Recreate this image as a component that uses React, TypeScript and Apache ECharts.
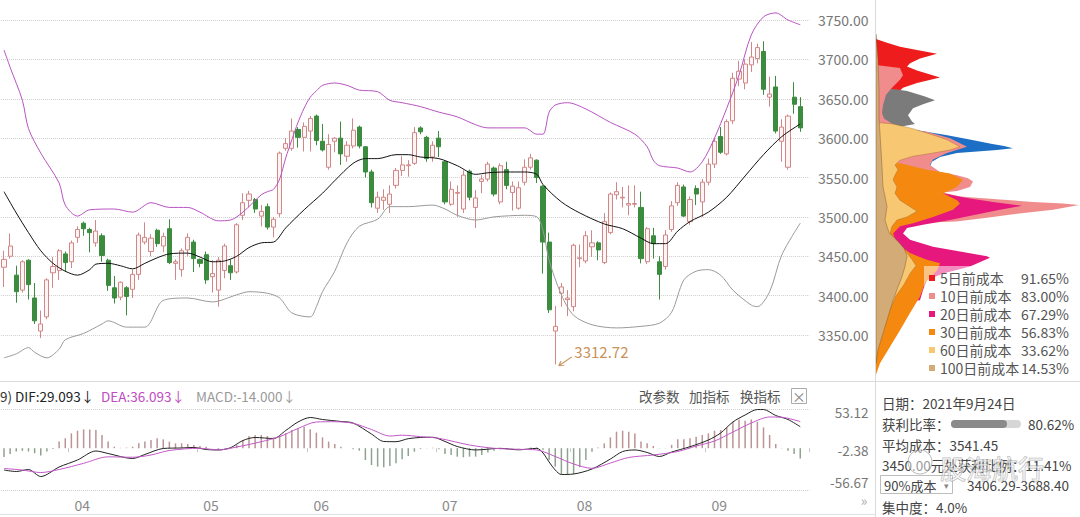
import React, { useEffect, useRef } from 'react';
import * as echarts from 'echarts';

const FONT = "'Noto Sans CJK SC', 'Noto Sans', sans-serif";

// ---- trading days (2021) ----
const year = 2021;
const marDays = [17, 18, 19, 22, 23, 24, 25, 26, 29, 30, 31];
const aprDays = [1, 2, 6, 7, 8, 9, 12, 13, 14, 15, 16, 19, 20, 21, 22, 23, 26, 27, 28, 29, 30];
const mayDays = [6, 7, 10, 11, 12, 13, 14, 17, 18, 19, 20, 21, 24, 25, 26, 27, 28, 31];
const junDays = [1, 2, 3, 4, 7, 8, 9, 10, 11, 15, 16, 17, 18, 21, 22, 23, 24, 25, 28, 29, 30];
const julDays = [1, 2, 5, 6, 7, 8, 9, 12, 13, 14, 15, 16, 19, 20, 21, 22, 23, 26, 27, 28, 29, 30];
const augDays = [2, 3, 4, 5, 6, 9, 10, 11, 12, 13, 16, 17, 18, 19, 20, 23, 24, 25, 26, 27, 30, 31];
const sepDays = [1, 2, 3, 6, 7, 8, 9, 10, 13, 14, 15, 16, 17, 22, 23, 24];
const monthDays: [number, number[]][] = [[3, marDays], [4, aprDays], [5, mayDays], [6, junDays], [7, julDays], [8, augDays], [9, sepDays]];

// ---- daily candles: [open, close, low, high] ----
const candles: number[][] = [
  [3436, 3446, 3411, 3457], [3450, 3463, 3447, 3479], [3426, 3405, 3391, 3438], [3407, 3443, 3404, 3445],
  [3445, 3414, 3395, 3446], [3397, 3368, 3364, 3416], [3355, 3364, 3346, 3381], [3373, 3420, 3370, 3422],
  [3429, 3437, 3410, 3449], [3432, 3457, 3420, 3459], [3453, 3442, 3430, 3456],
  [3443, 3467, 3435, 3470], [3474, 3484, 3467, 3488], [3492, 3485, 3476, 3494], [3484, 3480, 3455, 3486],
  [3467, 3482, 3462, 3496], [3476, 3451, 3443, 3479], [3445, 3413, 3406, 3447], [3410, 3397, 3390, 3425],
  [3398, 3417, 3394, 3418], [3410, 3399, 3375, 3412], [3408, 3427, 3397, 3433], [3427, 3477, 3420, 3480],
  [3468, 3474, 3465, 3493], [3456, 3473, 3450, 3478], [3483, 3466, 3462, 3485], [3463, 3475, 3455, 3480],
  [3485, 3442, 3440, 3497], [3441, 3443, 3420, 3446], [3433, 3457, 3424, 3460], [3458, 3474, 3450, 3479],
  [3468, 3447, 3430, 3471],
  [3446, 3441, 3436, 3447], [3452, 3420, 3415, 3456], [3424, 3428, 3404, 3445], [3407, 3445, 3386, 3449],
  [3432, 3463, 3422, 3466], [3438, 3429, 3420, 3446], [3430, 3490, 3428, 3492], [3502, 3518, 3496, 3530],
  [3521, 3529, 3512, 3533], [3522, 3510, 3505, 3524], [3501, 3507, 3488, 3515], [3513, 3487, 3484, 3517],
  [3487, 3497, 3474, 3500], [3504, 3581, 3500, 3583], [3587, 3593, 3584, 3600], [3587, 3609, 3584, 3625],
  [3611, 3601, 3588, 3614], [3601, 3615, 3583, 3620],
  [3609, 3625, 3583, 3628], [3628, 3597, 3591, 3630], [3596, 3585, 3583, 3618], [3563, 3592, 3560, 3605],
  [3596, 3600, 3582, 3601], [3600, 3580, 3566, 3621], [3577, 3591, 3570, 3596], [3590, 3610, 3587, 3625],
  [3614, 3590, 3587, 3616], [3589, 3557, 3550, 3590], [3557, 3518, 3512, 3560], [3511, 3525, 3505, 3532],
  [3521, 3525, 3509, 3535], [3516, 3529, 3505, 3540], [3540, 3559, 3536, 3562], [3559, 3566, 3552, 3577],
  [3565, 3566, 3551, 3572], [3568, 3607, 3566, 3614], [3613, 3608, 3605, 3615], [3601, 3574, 3570, 3603],
  [3576, 3591, 3570, 3596],
  [3600, 3589, 3576, 3609], [3570, 3519, 3516, 3572], [3516, 3535, 3514, 3545], [3530, 3531, 3500, 3540],
  [3510, 3553, 3505, 3559], [3558, 3525, 3521, 3560], [3512, 3524, 3486, 3534], [3545, 3548, 3530, 3553],
  [3548, 3567, 3545, 3570], [3562, 3529, 3526, 3564], [3519, 3565, 3516, 3568], [3560, 3540, 3535, 3570],
  [3531, 3539, 3508, 3545], [3511, 3537, 3509, 3545], [3544, 3563, 3540, 3573], [3563, 3575, 3560, 3580],
  [3572, 3550, 3543, 3573], [3539, 3468, 3428, 3540], [3468, 3382, 3378, 3480], [3355, 3361, 3312.72, 3387],
  [3403, 3411, 3386, 3416], [3395, 3397, 3374, 3407],
  [3386, 3464, 3380, 3466], [3447, 3448, 3436, 3465], [3444, 3476, 3441, 3482], [3462, 3467, 3449, 3483],
  [3467, 3458, 3445, 3469], [3442, 3494, 3440, 3505], [3480, 3529, 3478, 3531], [3528, 3532, 3522, 3544],
  [3524, 3525, 3512, 3538], [3515, 3517, 3502, 3540], [3516, 3517, 3512, 3540], [3512, 3447, 3441, 3532],
  [3443, 3485, 3440, 3487], [3476, 3466, 3447, 3486], [3443, 3427, 3395, 3450], [3437, 3477, 3433, 3483],
  [3484, 3514, 3481, 3520], [3518, 3540, 3514, 3544], [3538, 3501, 3500, 3541], [3494, 3522, 3490, 3526],
  [3536, 3529, 3515, 3540], [3519, 3544, 3500, 3548],
  [3544, 3567, 3540, 3574], [3567, 3596, 3562, 3600], [3602, 3582, 3580, 3614], [3580, 3621, 3578, 3624],
  [3622, 3676, 3618, 3683], [3675, 3685, 3666, 3698], [3670, 3694, 3662, 3700], [3693, 3703, 3684, 3722],
  [3701, 3715, 3695, 3720], [3710, 3662, 3655, 3723], [3652, 3656, 3640, 3678], [3665, 3609, 3606, 3679],
  [3596, 3614, 3570, 3624], [3563, 3628, 3560, 3630], [3652, 3643, 3631, 3671], [3640, 3613, 3608, 3652],
];

// ---- Bollinger bands, read at sample points: [dayIndex, value] ----
const upperBand = [
  [0, 3712], [1, 3690], [3, 3648], [4, 3612], [6, 3581], [9, 3543], [10, 3515], [12, 3501], [14, 3509], [18, 3510],
  [21, 3506], [24, 3518], [27, 3512], [30, 3512], [32, 3506], [35, 3495], [37, 3496], [39, 3506], [42, 3528],
  [43, 3532], [44, 3535], [45, 3548], [46, 3575], [47, 3598], [48, 3620], [49, 3638], [50, 3652], [51, 3660],
  [52, 3667], [54, 3670], [56, 3667], [58, 3661], [61, 3659], [63, 3648], [65, 3645], [68, 3640], [71, 3633],
  [74, 3627], [77, 3617], [79, 3613], [85, 3613], [87, 3605], [88, 3605], [89, 3633], [90, 3642], [92, 3645],
  [95, 3637], [99, 3620], [103, 3605], [105, 3589], [106, 3572], [107, 3565], [110, 3562], [112, 3557],
  [114, 3570], [116, 3600], [118, 3638], [120, 3680], [122, 3731], [124, 3754], [126, 3759], [128, 3750], [130, 3744],
];
const midBand = [
  [0, 3532], [2, 3505], [4, 3480], [6, 3457], [8, 3441], [10, 3431], [12, 3426], [14, 3433], [15, 3440],
  [17, 3441], [19, 3438], [21, 3434], [23, 3441], [25, 3448], [27, 3453], [30, 3454], [32, 3449], [34, 3443],
  [36, 3444], [38, 3450], [40, 3461], [42, 3467], [44, 3468], [46, 3486], [49, 3509], [52, 3530], [54, 3546],
  [57, 3568], [59, 3574], [61, 3574], [64, 3579], [66, 3579], [68, 3576], [71, 3574], [74, 3565], [77, 3554],
  [79, 3556], [82, 3557], [85, 3557], [87, 3554], [88, 3541], [91, 3519], [94, 3505], [98, 3491], [101, 3485],
  [104, 3473], [106, 3466], [108, 3466], [110, 3482], [112, 3494], [115, 3506], [118, 3525], [121, 3552],
  [124, 3579], [127, 3602], [130, 3618],
];
const lowerBand = [
  [0, 3321], [2, 3326], [4, 3334], [5, 3328], [7, 3321], [9, 3332], [10, 3344], [13, 3352], [16, 3364],
  [17, 3368], [20, 3360], [23, 3360], [26, 3394], [30, 3397], [34, 3392], [38, 3401], [40, 3405], [43, 3403],
  [45, 3397], [47, 3378], [50, 3373], [51, 3386], [52, 3405], [54, 3431], [56, 3467], [58, 3488], [61, 3497],
  [63, 3513], [66, 3513], [70, 3515], [72, 3510], [74, 3502], [77, 3496], [80, 3500], [85, 3502], [87, 3500],
  [88, 3483], [89, 3445], [91, 3401], [93, 3375], [96, 3363], [100, 3359], [104, 3361], [107, 3365], [109, 3379],
  [111, 3420], [113, 3431], [115, 3433], [117, 3426], [119, 3407], [122, 3388], [123, 3386], [125, 3405],
  [127, 3452], [130, 3492],
];

// ---- MACD ----
const difLine = [
  [0, -29.6], [2, -31.6], [4, -28.9], [6, -38.4], [9, -25.5], [12, -16], [15, -3.8], [17, -7.2], [21, -14],
  [23, -8.5], [26, -0.4], [29, 0.3], [31, 1], [33, -1.8], [35, -2.4], [37, 0.7], [39, 10.4], [41, 14.5],
  [44, 13.1], [46, 24], [48, 35.5], [50, 41.6], [52, 38.9], [55, 36.2], [57, 34.1], [60, 19.2], [62, 9.1],
  [64, 8.8], [66, 12.9], [68, 14.5], [70, 14.8], [72, 9.1], [74, 2.3], [77, -2.4], [81, -0.2], [84, -2.2],
  [87, -0.2], [88, -6.5], [89, -18.7], [90, -29.6], [91, -35.7], [93, -35], [96, -28.2], [99, -14.7],
  [101, -4.5], [103, -2.4], [105, -5.8], [107, -11.3], [109, -5.2], [112, 2], [115, 11.1], [117, 20.6],
  [119, 35.5], [121, 45], [123, 52.4], [124, 52.4], [126, 44.3], [128, 38.9], [130, 29.093],
];
const deaLine = [
  [0, -27.5], [3, -29.6], [6, -33], [9, -28.9], [13, -20.5], [17, -11.7], [21, -12.3], [24, -9.2], [27, -3.1],
  [32, -0.1], [35, -2.4], [38, 1.6], [42, 8.8], [45, 15.6], [48, 26.7], [51, 35.5], [54, 35.9], [57, 33.7],
  [60, 25.3], [63, 16.5], [65, 17.6], [68, 15.6], [71, 13.4], [76, 4.3], [80, -0.1], [84, -1.5], [87, -2.4],
  [90, -11.3], [93, -21.4], [96, -27.3], [99, -20.1], [102, -12.6], [106, -9.2], [110, -4.5], [113, 2.9],
  [116, 9.7], [119, 21.9], [122, 34.1], [125, 42.3], [127, 41.9], [130, 36.093],
];
const macdHist = [
  -12, -8, -4.5, -3.6, -4.5, -6.8, -10, -4.5, -1, 8.9, 13.4, 20.1, 23.7, 25.5, 25.5, 24.6, 17.9, 8.9, 2, 0.5,
  0.8, 2, 6.6, 8.9, 11.1, 13.4, 12, 8.9, 6.6, 6.6, 5.7, 4.3, 3, 2, -0.3, -1.5, -0.6, 0.7, 4.3, 11.1,
  16.5, 17.9, 17.9, 16.5, 14.7, 16.5, 20.1, 24.6, 26.9, 29.2, 25.6, 21, 14.7, 8.9, 5.7, 2, -0.2, -1.5, -3.3, -16,
  -22.8, -25, -25.9, -24.1, -20.5, -15.1, -10.6, -4.7, -1, 0.3, 0.5, -1.5, -7.9, -9.2, -11.5, -12.4, -11.5, -11.5, -9.2, -6,
  -3.3, -1.5, -0.8, 0.4, -0.5, 0.3, 1, 0.8, -2, -16, -25, -35, -36.5, -35, -26, -16, -4.7, 1, 6.6, 14.7,
  22.4, 23.7, 22.4, 20, 9, 6.6, 3, -0.3, -0.3, 4.5, 12, 12, 13.4, 15.6, 17.9, 20, 23.7, 24.6, 28.2, 35.7,
  39, 37.2, 39, 35.7, 28.2, 17.9, 5.7, -0.3, -3.3, -7.9, -14,
];

const priceTicks = [3350, 3400, 3450, 3500, 3550, 3600, 3650, 3700, 3750];
const macdLabelTicks = [53.12, -2.38, -56.67];
const macdLineTicks = [-56.67, 53.12];
const lowPoint = { index: 90, value: 3312.72 };

// ---- chip (cost) distribution: [width, price] ----
const chipRed = [[0, 3726], [11, 3721], [24, 3716], [41, 3712], [61, 3707], [44, 3701], [34, 3695], [31, 3691], [41, 3686], [64, 3677], [41, 3670], [27, 3664], [21, 3657], [14, 3648], [6, 3644], [0, 3642]];
const chipGray = [[0, 3663], [19, 3662], [31, 3660], [41, 3656], [49, 3653], [59, 3648], [47, 3643], [37, 3638], [32, 3629], [36, 3621], [39, 3618], [27, 3615], [11, 3615], [0, 3616]];
const chipBlue = [[0, 3612], [41, 3610], [70, 3604], [95, 3598], [115, 3593], [128, 3590], [137, 3587], [121, 3585], [101, 3583], [81, 3581], [64, 3576], [56, 3570], [54, 3564], [0, 3564]];
const chipPink = [[0, 3693], [24, 3689], [27, 3680], [24, 3674], [16, 3664], [10, 3655], [7, 3642], [6, 3632], [8, 3625], [24, 3612], [51, 3608], [74, 3600], [91, 3589], [71, 3581], [57, 3573], [54, 3566], [64, 3557], [81, 3553], [92, 3549], [97, 3545], [94, 3538], [81, 3533], [67, 3531], [84, 3526], [124, 3522], [157, 3519], [187, 3517], [203, 3515], [177, 3509], [141, 3504], [111, 3499], [80, 3494], [0, 3490]];
const chipMagenta = [[0, 3531], [67, 3530], [91, 3524], [117, 3519], [146, 3514], [124, 3509], [97, 3502], [74, 3496], [47, 3490], [31, 3486], [27, 3479], [34, 3471], [57, 3462], [84, 3456], [111, 3450], [114, 3448], [94, 3437], [67, 3428], [51, 3420], [47, 3407], [44, 3394], [0, 3390]];
const chipOrange = [[0, 3570], [24, 3568], [51, 3560], [74, 3555], [87, 3547], [81, 3538], [67, 3530], [81, 3521], [84, 3517], [77, 3509], [57, 3500], [37, 3492], [24, 3488], [17, 3479], [21, 3466], [34, 3454], [50, 3446], [64, 3441], [61, 3432], [49, 3416], [44, 3399], [34, 3378], [24, 3356], [14, 3335], [4, 3314], [0, 3300]];
const chipYellow = [[0, 3620], [17, 3618], [37, 3612], [57, 3604], [71, 3598], [84, 3589], [74, 3585], [57, 3581], [37, 3577], [24, 3572], [19, 3566], [22, 3560], [19, 3553], [17, 3547], [21, 3538], [19, 3530], [24, 3521], [34, 3513], [41, 3507], [31, 3500], [21, 3496], [16, 3488], [14, 3479], [24, 3466], [31, 3454], [36, 3446], [40, 3438], [34, 3428], [28, 3414], [20, 3400], [14, 3382], [7, 3361], [2, 3340], [0, 3318]];
const chipTan = [[0, 3732], [2, 3700], [3, 3660], [3, 3625], [4, 3606], [6, 3564], [7, 3538], [9, 3526], [11, 3513], [9, 3496], [13, 3480], [21, 3470], [28, 3460], [31, 3450], [29, 3437], [26, 3424], [22, 3411], [17, 3394], [12, 3373], [7, 3352], [2, 3331], [0, 3314]];

const legendNames = ['5日前成本', '10日前成本', '20日前成本', '30日前成本', '60日前成本', '100日前成本'];
const legendValues = ['91.65%', '83.00%', '67.29%', '56.83%', '33.62%', '14.53%'];

const chipLayers = [
  { name: '5日前成本', color: '#ee1c1c', pts: chipRed },
  { name: '近期成本', color: '#7b7b7b', pts: chipGray },
  { name: '新增成本', color: '#1d6fc6', pts: chipBlue },
  { name: '10日前成本', color: '#f08c8c', pts: chipPink },
  { name: '20日前成本', color: '#e6187e', pts: chipMagenta },
  { name: '30日前成本', color: '#f5890f', pts: chipOrange },
  { name: '60日前成本', color: '#f8c772', pts: chipYellow, stroke: 'rgba(150,100,40,0.55)' },
  { name: '100日前成本', color: '#d3ab76', pts: chipTan, stroke: 'rgba(120,80,30,0.6)' },
];

function buildOption() {
  const categories: string[] = [];
  monthDays.forEach(([m, days]) =>
    days.forEach((d) => categories.push(`${year}-${String(m).padStart(2, '0')}-${String(d).padStart(2, '0')}`))
  );
  const axisCats = [...categories, ''];
  const monthStart = categories
    .map((c, i) => (i > 0 && c.slice(5, 7) !== categories[i - 1].slice(5, 7) ? i : -1))
    .filter((i) => i >= 0);
  const isMonthStart = (i: number) => monthStart.indexOf(i) >= 0;

  const GL = 0.94;
  const GW = 132 * 6.125;

  const txt = (text: string, x: number, y: number, o: any = {}) => ({
    type: 'text',
    x,
    y,
    z: 20,
    silent: true,
    style: {
      text,
      fill: o.fill || '#444',
      font: `${o.size || 13.5}px ${FONT}`,
      align: o.align || 'left',
      verticalAlign: 'middle',
      stroke: o.stroke,
      lineWidth: o.lineWidth,
    },
  });

  const chipSeries = chipLayers.map((L) => ({
    type: 'custom',
    name: L.name,
    xAxisIndex: 2,
    yAxisIndex: 2,
    silent: true,
    z: 2,
    itemStyle: { color: L.color },
    data: [[0, L.pts[0][1]]],
    renderItem: (_p: any, api: any) => ({
      type: 'polygon',
      shape: { points: L.pts.map(([w, p]) => api.coord([w, p])) },
      style: { fill: L.color, stroke: L.stroke || 'none', lineWidth: L.stroke ? 0.7 : 0 },
    }),
  }));

  return {
    animation: false,
    textStyle: { fontFamily: FONT },
    grid: [
      { left: GL, top: 0, width: GW, height: 378, outerBoundsMode: 'none' },
      { left: GL, top: 409, width: GW, height: 81, outerBoundsMode: 'none' },
      { left: 876, top: 0, width: 204, height: 378, outerBoundsMode: 'none' },
    ],
    xAxis: [
      {
        type: 'category', gridIndex: 0, data: axisCats, boundaryGap: true,
        axisLine: { show: false }, axisTick: { show: false }, axisLabel: { show: false }, splitLine: { show: false },
      },
      {
        type: 'category', gridIndex: 1, data: axisCats, boundaryGap: true,
        axisLine: { show: false },
        axisTick: { show: true, interval: isMonthStart, length: 4, lineStyle: { color: '#c8c8c8' } },
        axisLabel: {
          interval: isMonthStart,
          margin: 8,
          formatter: (v: string) => `{m|${v.slice(5, 7)}}`,
          rich: { m: { padding: [0, 0, 0, 22], color: '#8a8a8a', fontSize: 14, fontFamily: FONT } },
        },
        splitLine: { show: false },
      },
      { type: 'value', gridIndex: 2, min: 0, max: 204, show: false },
    ],
    yAxis: [
      {
        type: 'value', gridIndex: 0, position: 'right', min: 3295.4, max: 3775.4,
        axisLine: { show: false },
        axisTick: { show: false, customValues: priceTicks },
        axisLabel: {
          customValues: priceTicks, align: 'right', margin: 59, color: '#777', fontSize: 14, fontFamily: FONT,
          formatter: (v: number) => v.toFixed(2),
        },
        splitLine: { show: true, lineStyle: { type: 'dotted', color: '#cfcfcf', width: 1 } },
      },
      {
        type: 'value', gridIndex: 1, position: 'right', min: -56.67, max: 53.12,
        axisLine: { show: false },
        axisTick: { show: false, customValues: macdLineTicks },
        axisLabel: {
          customValues: macdLabelTicks, align: 'right', margin: 59,
          formatter: (v: number) => (v > 50 ? `{t|${v.toFixed(2)}}` : v < -50 ? `{b|${v.toFixed(2)}}` : `{m|${v.toFixed(2)}}`),
          rich: {
            t: { padding: [6, 0, 0, 0], color: '#777', fontSize: 13.5, fontFamily: FONT },
            m: { color: '#777', fontSize: 13.5, fontFamily: FONT },
            b: { padding: [0, 0, 16, 0], color: '#777', fontSize: 13.5, fontFamily: FONT },
          },
        },
        splitLine: { show: true, lineStyle: { type: 'dotted', color: '#cfcfcf', width: 1 } },
      },
      { type: 'value', gridIndex: 2, min: 3295.4, max: 3775.4, show: false },
    ],
    legend: {
      data: legendNames,
      orient: 'vertical',
      left: 929,
      top: 271,
      itemGap: 4,
      itemWidth: 6,
      itemHeight: 6,
      icon: 'rect',
      padding: 0,
      selectedMode: false,
      z: 12,
      formatter: (name: string) => `{n|${name}}{v|${legendValues[legendNames.indexOf(name)]}}`,
      textStyle: {
        rich: {
          n: { width: 81, fontSize: 14, lineHeight: 16, color: '#555', fontFamily: FONT },
          v: { fontSize: 14, lineHeight: 16, color: '#555', fontFamily: FONT },
        },
      },
    },
    series: [
      {
        type: 'candlestick',
        xAxisIndex: 0,
        yAxisIndex: 0,
        data: candles,
        barWidth: 4.6,
        silent: true,
        z: 2,
        itemStyle: {
          color: '#fff4f4',
          color0: '#3b8c3f',
          borderColor: '#d08787',
          borderColor0: '#3b8c3f',
          borderWidth: 1,
        },
        markPoint: {
          silent: true,
          symbol: 'path://M0,10L14,0M0,10L6,9.4M0,10L2.4,4.8',
          symbolSize: [13, 9],
          symbolKeepAspect: false,
          symbolOffset: [10, -3],
          itemStyle: { color: 'rgba(0,0,0,0)', borderColor: '#c8935a', borderWidth: 1 },
          label: {
            show: true,
            position: 'right',
            distance: 2,
            offset: [0, -10],
            formatter: String(lowPoint.value),
            color: '#c8935a',
            fontSize: 15,
            fontFamily: FONT,
          },
          data: [{ coord: [categories[lowPoint.index], lowPoint.value] }],
        },
      },
      {
        type: 'line', xAxisIndex: 0, yAxisIndex: 0, data: upperBand, symbol: 'none', smooth: 0.3, silent: true, z: 3,
        lineStyle: { color: '#b853c2', width: 1 },
      },
      {
        type: 'line', xAxisIndex: 0, yAxisIndex: 0, data: midBand, symbol: 'none', smooth: 0.3, silent: true, z: 3,
        lineStyle: { color: '#111', width: 1 },
      },
      {
        type: 'line', xAxisIndex: 0, yAxisIndex: 0, data: lowerBand, symbol: 'none', smooth: 0.3, silent: true, z: 3,
        lineStyle: { color: '#9a9a9a', width: 1 },
      },
      {
        type: 'bar', xAxisIndex: 1, yAxisIndex: 1, silent: true, barWidth: 1.5, z: 2,
        data: macdHist.map((v) => ({ value: v, itemStyle: { color: v >= 0 ? '#bc9494' : '#8ea38e' } })),
      },
      {
        type: 'line', xAxisIndex: 1, yAxisIndex: 1, data: difLine, symbol: 'none', smooth: 0.3, silent: true, z: 3,
        lineStyle: { color: '#222', width: 1 },
      },
      {
        type: 'line', xAxisIndex: 1, yAxisIndex: 1, data: deaLine, symbol: 'none', smooth: 0.3, silent: true, z: 3,
        lineStyle: { color: '#c458c8', width: 1 },
      },
      ...chipSeries,
    ],
    graphic: [
      { type: 'line', z: 5, silent: true, shape: { x1: 875.5, y1: 0, x2: 875.5, y2: 517 }, style: { stroke: '#dadada', lineWidth: 1 } },
      { type: 'line', z: 5, silent: true, shape: { x1: 0, y1: 381.5, x2: 1080, y2: 381.5 }, style: { stroke: '#dadada', lineWidth: 1 } },
      { type: 'line', z: 5, silent: true, shape: { x1: 0, y1: 514.5, x2: 875, y2: 514.5 }, style: { stroke: '#e2e2e2', lineWidth: 1 } },
      { type: 'rect', z: 8, silent: true, shape: { x: 924, y: 266, width: 156, height: 115 }, style: { fill: 'rgba(255,255,255,0.5)' } },
      // MACD header
      txt('9)', 0, 396, { fill: '#333' }),
      txt('DIF:29.093↓', 15, 396, { fill: '#222' }),
      txt('DEA:36.093↓', 101, 396, { fill: '#c04cc4' }),
      txt('MACD:-14.000↓', 196, 396, { fill: '#9a9a9a' }),
      txt('改参数', 639, 396, { fill: '#555' }),
      txt('加指标', 689, 396, { fill: '#555' }),
      txt('换指标', 740, 396, { fill: '#555' }),
      { type: 'rect', z: 20, silent: true, shape: { x: 791.5, y: 388.5, width: 15, height: 15 }, style: { fill: '#fff', stroke: '#aaa', lineWidth: 1 } },
      txt('×', 799, 396, { fill: '#888', align: 'center', size: 14 }),
      txt('»', 864, 500, { fill: '#aaa', align: 'center', size: 14 }),
      // info panel
      txt('日期：2021年9月24日', 882, 403),
      txt('获利比率：', 882, 424),
      { type: 'rect', z: 20, silent: true, shape: { x: 951, y: 420, width: 70, height: 8, r: 4 }, style: { fill: '#d6d6d6' } },
      { type: 'rect', z: 21, silent: true, shape: { x: 951, y: 420, width: 56, height: 8, r: 4 }, style: { fill: '#8a8a8a' } },
      txt('80.62%', 1028, 424),
      txt('平均成本：3541.45', 882, 445),
      txt('3450.00元处获利比例：11.41%', 882, 465),
      { type: 'rect', z: 20, silent: true, shape: { x: 880.5, y: 475.5, width: 72, height: 18 }, style: { fill: 'none', stroke: '#bdbdbd', lineWidth: 1 } },
      txt('90%成本', 884, 485, { size: 13 }),
      txt('▾', 944, 485, { fill: '#888', size: 9 }),
      txt('3406.29-3688.40', 967, 485),
      txt('集中度：4.0%', 882, 507),
      // watermark
      { type: 'circle', z: 22, silent: true, shape: { cx: 920, cy: 462, r: 12 }, style: { fill: 'rgba(255,255,255,0.45)', stroke: 'rgba(120,120,120,0.5)', lineWidth: 1 } },
      txt('股海航行', 940, 467, { fill: 'rgba(255,255,255,0.55)', stroke: 'rgba(110,110,110,0.5)', lineWidth: 1, size: 26 }),
    ],
  };
}

export default function App() {
  const ref = useRef<HTMLDivElement>(null);
  useEffect(() => {
    if (!ref.current) return;
    const chart = echarts.init(ref.current, null, { renderer: 'svg' });
    chart.setOption(buildOption() as any);
    return () => chart.dispose();
  }, []);
  return (
    <div
      ref={ref}
      style={{ position: 'fixed', left: 0, top: 0, width: 1080, height: 517, background: '#fff' }}
    />
  );
}
